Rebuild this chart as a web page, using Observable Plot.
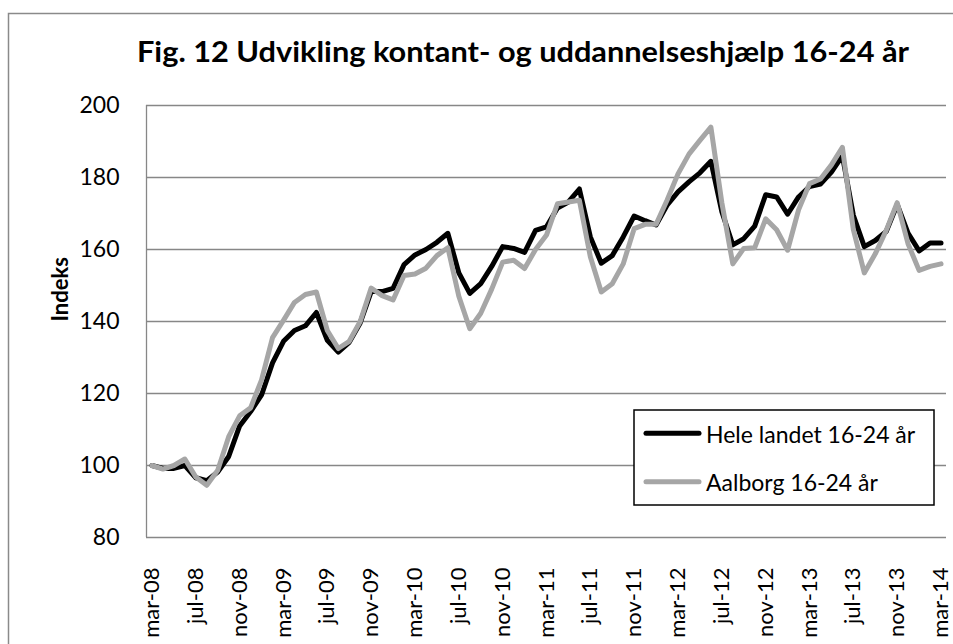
<!DOCTYPE html>
<html>
<head>
<meta charset="utf-8">
<script src="https://cdn.jsdelivr.net/npm/d3@7"></script>
<script src="https://cdn.jsdelivr.net/npm/@observablehq/plot@0.6"></script>
<style>
  html, body { margin: 0; padding: 0; background: #fff; }
  #wrap { position: relative; width: 953px; height: 644px; overflow: hidden; background: #fff; font-family: Lato, sans-serif; }
  #wrap > svg { position: absolute; left: 0; top: 0; }
</style>
</head>
<body>
<div id="wrap"></div>
<script>
const title = "Fig. 12 Udvikling kontant- og uddannelseshjælp 16-24 år";
const yLabel = "Indeks";
const seriesNames = ["Hele landet 16-24 år", "Aalborg 16-24 år"];
const seriesColors = ["#000000", "#a6a6a6"];

const months = [
  "mar-08","apr-08","maj-08","jun-08","jul-08","aug-08","sep-08","okt-08","nov-08","dec-08",
  "jan-09","feb-09","mar-09","apr-09","maj-09","jun-09","jul-09","aug-09","sep-09","okt-09","nov-09","dec-09",
  "jan-10","feb-10","mar-10","apr-10","maj-10","jun-10","jul-10","aug-10","sep-10","okt-10","nov-10","dec-10",
  "jan-11","feb-11","mar-11","apr-11","maj-11","jun-11","jul-11","aug-11","sep-11","okt-11","nov-11","dec-11",
  "jan-12","feb-12","mar-12","apr-12","maj-12","jun-12","jul-12","aug-12","sep-12","okt-12","nov-12","dec-12",
  "jan-13","feb-13","mar-13","apr-13","maj-13","jun-13","jul-13","aug-13","sep-13","okt-13","nov-13","dec-13",
  "jan-14","feb-14","mar-14"
];
const tickMonths = ["mar-08","jul-08","nov-08","mar-09","jul-09","nov-09","mar-10","jul-10","nov-10",
  "mar-11","jul-11","nov-11","mar-12","jul-12","nov-12","mar-13","jul-13","nov-13","mar-14"];
const yTicks = [80, 100, 120, 140, 160, 180, 200];

const heleLandet = [
  100, 99.2, 99.2, 100, 96.6, 95.8, 98.2, 102.5, 111, 115,
  119.6, 128.5, 134.5, 137.5, 138.8, 142.5, 134.8, 131.5, 134.2, 139.6, 148.3, 148.3,
  149.2, 155.8, 158.5, 160, 162, 164.5, 153.5, 147.8, 150.5, 155.3, 160.8, 160.3,
  159.2, 165.3, 166.3, 171.5, 173.2, 176.8, 163.5, 156.2, 158.3, 163.5, 169.3, 168,
  166.8, 172.3, 176, 178.8, 181.3, 184.5, 170.5, 161.3, 163, 166.5, 175.2, 174.6,
  169.8, 174.6, 177.5, 178.2, 181.5, 186, 169.5, 160.8, 162.5, 165, 172.5, 164.5,
  159.6, 161.8, 161.8
];
const aalborg = [
  100, 99, 100, 101.8, 96.8, 94.5, 98.7, 108, 113.8, 116,
  123.8, 135.5, 140.3, 145.3, 147.5, 148.2, 137.5, 132.5, 134.5, 140, 149.3, 147.2,
  146, 152.8, 153.2, 154.8, 158.3, 160.5, 147, 138, 142.3, 149, 156.5, 157,
  154.7, 160, 164, 172.7, 173.2, 173.7, 158, 148.2, 150.5, 156, 165.8, 167,
  167, 173.7, 181, 186.5, 190.3, 194, 173, 156, 160.3, 160.5, 168.5, 165.5,
  159.8, 171, 178.3, 179.6, 183.5, 188.4, 165.5, 153.5, 158.8, 165.3, 173, 161.5,
  154.2, 155.3, 156
];

const gridColor = "#878787";
const idx = (d, i) => i;

const chart = Plot.plot({
  width: 953,
  height: 644,
  marginLeft: 146,
  marginRight: 7,
  marginTop: 105,
  marginBottom: 107,
  style: { fontFamily: "Lato, sans-serif", fontSize: "22px", color: "#000", background: "transparent", overflow: "visible" },
  x: { type: "linear", domain: [-0.5, months.length - 0.5] },
  y: { domain: [80, 200] },
  marks: [
    Plot.gridY(yTicks, { stroke: gridColor, strokeOpacity: 1, strokeWidth: 1.3 }),
    Plot.ruleX([-0.5], { stroke: gridColor, strokeWidth: 1.3 }),
    Plot.axisY(yTicks, { tickSize: 0, tickPadding: 27, fontSize: 23, label: null }),
    Plot.axisX(tickMonths.map(m => months.indexOf(m)), {
      tickFormat: i => months[i], tickRotate: -90, tickSize: 0, tickPadding: 30, fontSize: 22, label: null
    }),
    Plot.text([yLabel], { frameAnchor: "left", dx: -86, rotate: -90, fontWeight: "bold", fontSize: 22, fill: "#000" }),
    Plot.line(heleLandet, { x: idx, y: d => d, stroke: seriesColors[0], strokeWidth: 5, strokeLinejoin: "round", strokeLinecap: "round" }),
    Plot.line(aalborg, { x: idx, y: d => d, stroke: seriesColors[1], strokeWidth: 5, strokeLinejoin: "round", strokeLinecap: "round" })
  ]
});
const wrap = document.getElementById("wrap");
wrap.appendChild(chart);

// overlay: chart border, title, legend
const ns = "http://www.w3.org/2000/svg";
const ov = document.createElementNS(ns, "svg");
ov.setAttribute("width", 953);
ov.setAttribute("height", 644);
ov.style.fontFamily = "Lato, sans-serif";
function el(tag, attrs, text) {
  const e = document.createElementNS(ns, tag);
  for (const k in attrs) e.setAttribute(k, attrs[k]);
  if (text != null) e.textContent = text;
  ov.appendChild(e);
  return e;
}
el("path", { d: "M8.5,660 V13.5 H960", fill: "none", stroke: "#8a8a8a", "stroke-width": 1.5 });
el("text", { x: 137, y: 62, "font-size": 28, "font-weight": "bold", fill: "#000",
  textLength: 772, lengthAdjust: "spacingAndGlyphs" }, title);
el("rect", { x: 634, y: 410, width: 300, height: 95, fill: "#fff", stroke: "#000", "stroke-width": 1.5 });
const legY = [433.3, 481.7];
seriesNames.forEach((name, k) => {
  el("line", { x1: 646, x2: 699, y1: legY[k], y2: legY[k], stroke: seriesColors[k], "stroke-width": 5, "stroke-linecap": "round" });
  el("text", { x: 706, y: legY[k] + 9.5, "font-size": 23, fill: "#000" }, name);
});
wrap.appendChild(ov);
</script>
</body>
</html>
